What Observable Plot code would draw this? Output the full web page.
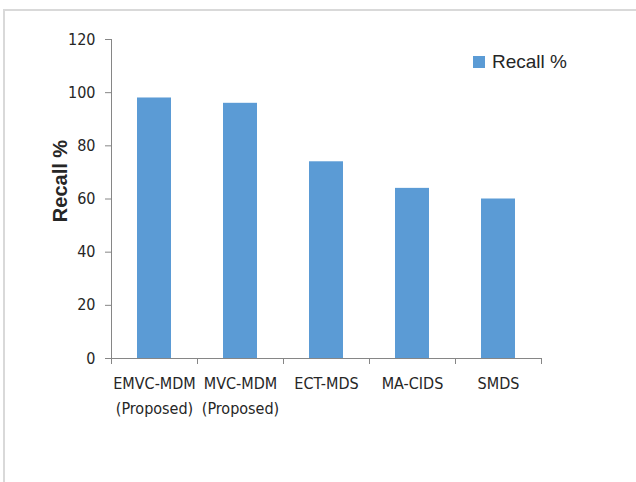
<!DOCTYPE html>
<html>
<head>
<meta charset="utf-8">
<script src="https://cdn.jsdelivr.net/npm/d3@7"></script>
<script src="https://cdn.jsdelivr.net/npm/@observablehq/plot@0.6"></script>
<style>
  html, body { margin: 0; padding: 0; background: #fff; }
  #chart { position: relative; width: 636px; height: 482px; overflow: hidden; }
  #frame { position: absolute; left: 3px; top: 9px; right: -10px; bottom: -10px;
           border-left: 2px solid #d9d9d9; border-top: 2px solid #d9d9d9; }
  #chart svg { position: absolute; left: 0; top: 0; }
  #legend { position: absolute; left: 473px; top: 51px; display: flex; align-items: center;
            font: 19px "Liberation Sans", sans-serif; color: #262626; }
  #legend .sw { width: 12px; height: 12px; background: #5b9bd5; margin-right: 7px; }
</style>
</head>
<body>
<div id="chart"><div id="frame"></div></div>
<script>
// Recall (%) of each detection method
const methods = ["EMVC-MDM\n(Proposed)", "MVC-MDM\n(Proposed)", "ECT-MDS", "MA-CIDS", "SMDS"];
const recall = [98, 96, 74, 64, 60];
const yTicks = [0, 20, 40, 60, 80, 100, 120];
const seriesName = "Recall %";

const data = methods.map((m, i) => ({method: m, recall: recall[i]}));

const W = 636, H = 482;
const mL = 111, mR = 95, mT = 39, mB = 124;
const step = (W - mL - mR) / methods.length; // width of one category slot
const barColor = "#5b9bd5";
const axisGray = "#868686";
const textColor = "#262626";
const narrow = "'DejaVu Sans Condensed', 'Liberation Sans Narrow', sans-serif";

const chart = Plot.plot({
  width: W,
  height: H,
  marginLeft: mL,
  marginRight: mR,
  marginTop: mT,
  marginBottom: mB,
  style: {fontFamily: narrow, background: "transparent", overflow: "visible"},
  x: {domain: methods, paddingInner: 0.6, paddingOuter: 0.3},
  y: {domain: [0, 120]},
  marks: [
    Plot.barY(data, {x: "method", y: "recall", fill: barColor}),
    // axis lines
    Plot.ruleY([0], {stroke: axisGray}),
    Plot.ruleX(methods.slice(0, 1), {stroke: axisGray, dx: -step / 2}),
    Plot.axisY({ticks: yTicks, tickSize: 6, tickPadding: 10,
                stroke: axisGray, fill: textColor, fontSize: 16, fontFamily: narrow, label: null}),
    // category boundary ticks along the baseline
    Plot.axisX({ticks: methods, tickSize: 6, fill: "none", stroke: axisGray, dx: -step / 2, label: null}),
    Plot.axisX({ticks: methods.slice(-1), tickSize: 6, fill: "none", stroke: axisGray, dx: step / 2, label: null}),
    // category names
    Plot.axisX({ticks: methods, tickSize: 0, tickPadding: 13, fill: textColor,
                fontSize: 16, fontFamily: narrow, lineHeight: 1.56, label: null}),
    // y-axis title
    Plot.text([seriesName], {frameAnchor: "left", textAnchor: "middle", rotate: -90, dx: -51, dy: -18,
               fontSize: 20, fontWeight: "bold", fontFamily: "'Liberation Sans', Arial, sans-serif",
               fill: textColor})
  ]
});

document.getElementById("chart").appendChild(chart);

const legend = document.createElement("div");
legend.id = "legend";
legend.innerHTML = `<span class="sw"></span><span>${seriesName}</span>`;
document.getElementById("chart").appendChild(legend);
</script>
</body>
</html>
